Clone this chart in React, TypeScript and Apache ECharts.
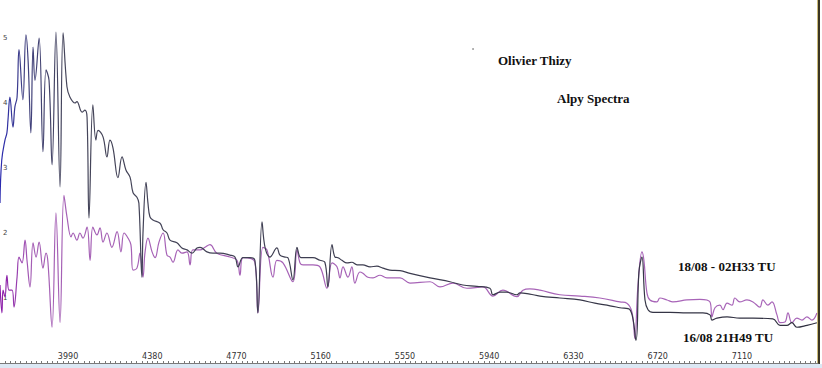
import React, { useEffect, useRef } from "react";
import * as echarts from "echarts";

// Wavelength tick labels (Å)
const xTickLabels = [3990, 4380, 4770, 5160, 5550, 5940, 6330, 6720, 7110];
const yTickLabels = [1, 2, 3, 4, 5];

// Spectrum 16/08 21H49 TU (dark line): wavelength, relative flux
const wl16 = [3675, 3683, 3698, 3707, 3712, 3721, 3735, 3744, 3754, 3763, 3781, 3795, 3805, 3818, 3828, 3837, 3856, 3874, 3888, 3902, 3916, 3934, 3953, 3967, 3985, 3999, 4022, 4031, 4055, 4068, 4078, 4087, 4105, 4119, 4129, 4152, 4170, 4184, 4198, 4221, 4240, 4258, 4277, 4291, 4309, 4318, 4332, 4337, 4351, 4360, 4369, 4383, 4416, 4430, 4448, 4462, 4494, 4517, 4541, 4564, 4587, 4601, 4633, 4661, 4693, 4740, 4763, 4777, 4800, 4832, 4855, 4869, 4888, 4902, 4925, 4957, 4971, 4994, 5008, 5031, 5050, 5064, 5078, 5124, 5156, 5179, 5193, 5212, 5226, 5240, 5258, 5281, 5304, 5328, 5355, 5388, 5420, 5448, 5480, 5527, 5573, 5666, 5758, 5818, 5883, 5943, 5957, 5990, 6022, 6068, 6082, 6128, 6175, 6267, 6360, 6429, 6499, 6545, 6591, 6619, 6633, 6647, 6661, 6675, 6698, 6777, 6855, 6929, 6962, 6971, 6994, 7041, 7100, 7161, 7253, 7286, 7318, 7341, 7364, 7411, 7457];
const flux16 = [2.46, 3.12, 3.43, 3.54, 3.74, 4.09, 3.63, 3.94, 4.09, 4.82, 4.05, 5.05, 4.66, 3.54, 4.86, 4.35, 5.0, 3.25, 4.51, 4.35, 3.05, 5.09, 2.71, 5.08, 4.25, 4.09, 4.0, 4.02, 3.86, 3.89, 3.78, 2.23, 3.97, 3.43, 3.58, 3.48, 3.17, 3.43, 3.31, 2.85, 3.17, 2.97, 2.86, 2.62, 2.55, 2.46, 1.32, 2.0, 2.78, 2.46, 2.25, 2.2, 2.15, 2.05, 2.0, 1.89, 1.85, 1.77, 1.74, 1.69, 1.77, 1.78, 1.71, 1.69, 1.69, 1.66, 1.63, 1.48, 1.62, 1.62, 1.58, 0.77, 2.17, 1.78, 1.63, 1.77, 1.66, 1.63, 1.62, 1.28, 1.78, 1.63, 1.62, 1.62, 1.58, 1.55, 1.17, 1.82, 1.63, 1.62, 1.58, 1.54, 1.55, 1.51, 1.51, 1.48, 1.49, 1.46, 1.43, 1.42, 1.38, 1.31, 1.25, 1.2, 1.18, 1.15, 1.05, 1.09, 1.09, 1.05, 1.08, 1.06, 1.03, 1.0, 0.97, 0.92, 0.88, 0.85, 0.82, 0.35, 1.4, 1.63, 0.97, 0.82, 0.78, 0.78, 0.77, 0.77, 0.74, 0.66, 0.69, 0.71, 0.69, 0.69, 0.68, 0.58, 0.58, 0.62, 0.55, 0.58, 0.62];

// Spectrum 18/08 - 02H33 TU (purple line)
const wl18 = [3675, 3684, 3689, 3698, 3707, 3717, 3731, 3740, 3754, 3763, 3777, 3791, 3800, 3814, 3828, 3842, 3856, 3874, 3888, 3897, 3916, 3934, 3953, 3971, 3985, 4004, 4013, 4031, 4045, 4059, 4078, 4092, 4105, 4124, 4138, 4152, 4170, 4193, 4217, 4235, 4249, 4268, 4281, 4291, 4309, 4323, 4337, 4346, 4360, 4379, 4393, 4411, 4430, 4448, 4462, 4476, 4499, 4517, 4541, 4555, 4568, 4601, 4624, 4647, 4679, 4740, 4772, 4786, 4800, 4855, 4869, 4892, 4911, 4939, 4957, 4985, 5031, 5050, 5064, 5078, 5124, 5156, 5189, 5212, 5235, 5249, 5263, 5286, 5304, 5318, 5341, 5355, 5378, 5402, 5434, 5466, 5494, 5527, 5573, 5666, 5712, 5772, 5837, 5911, 5957, 6003, 6068, 6096, 6128, 6175, 6267, 6360, 6452, 6545, 6577, 6601, 6614, 6628, 6647, 6656, 6670, 6684, 6716, 6730, 6763, 6790, 6855, 6915, 6962, 6971, 6985, 7008, 7022, 7041, 7064, 7077, 7100, 7133, 7161, 7193, 7207, 7230, 7249, 7272, 7286, 7309, 7323, 7341, 7364, 7388, 7411, 7434, 7457];
const flux18 = [1.2, 0.77, 1.12, 1.02, 1.35, 1.12, 1.12, 0.86, 1.32, 1.63, 1.54, 1.89, 1.58, 1.17, 1.85, 1.63, 1.86, 1.46, 1.69, 1.55, 0.55, 2.31, 0.62, 2.58, 2.25, 1.94, 2.0, 1.89, 2.0, 1.92, 2.09, 1.58, 2.09, 1.97, 2.08, 1.86, 2.0, 1.78, 2.02, 1.71, 2.0, 1.92, 1.82, 1.43, 1.46, 1.69, 1.32, 1.69, 1.92, 1.71, 1.62, 1.86, 2.0, 1.66, 1.63, 1.55, 1.74, 1.69, 1.71, 1.51, 1.74, 1.74, 1.78, 1.82, 1.69, 1.63, 1.58, 1.35, 1.62, 1.55, 0.77, 1.78, 1.74, 1.32, 1.58, 1.54, 1.25, 1.74, 1.54, 1.51, 1.51, 1.48, 1.15, 1.54, 1.48, 1.31, 1.48, 1.32, 1.48, 1.23, 1.4, 1.38, 1.32, 1.31, 1.35, 1.31, 1.31, 1.31, 1.23, 1.25, 1.17, 1.23, 1.15, 1.17, 1.03, 1.12, 1.02, 1.12, 1.14, 1.12, 1.05, 1.03, 1.0, 0.94, 0.92, 0.78, 0.38, 1.17, 1.71, 1.58, 1.08, 0.97, 0.94, 1.0, 0.97, 0.94, 0.97, 0.98, 0.94, 0.71, 0.85, 0.89, 0.82, 0.92, 0.89, 1.0, 0.94, 0.97, 0.94, 0.86, 0.97, 0.89, 0.94, 0.74, 0.62, 0.63, 0.77, 0.62, 0.69, 0.66, 0.71, 0.66, 0.77];

const name16 = "16/08 21H49 TU";
const name18 = "18/08 - 02H33 TU";

export default function App() {
  const ref = useRef<HTMLDivElement>(null);
  useEffect(() => {
    if (!ref.current) return;
    const chart = echarts.init(ref.current, null, { renderer: "svg" });
    const minorTicks: number[] = [];
    const step = 390 / 16;
    for (let v = xTickLabels[0] - 390; v < 7470; v += step) minorTicks.push(Math.round(v * 100) / 100);
    const serif = "'Liberation Serif', 'Times New Roman', serif";
    chart.setOption({
      animation: false,
      backgroundColor: "#ffffff",
      grid: { left: 0, right: 4, top: 0, bottom: 5 },
      xAxis: {
        type: "value",
        min: 3675,
        max: 7462,
        axisLine: { show: true, lineStyle: { color: "#7a7a7a", width: 1 } },
        axisTick: { show: true, inside: true, length: 2, customValues: minorTicks, lineStyle: { color: "#777" } },
        axisLabel: {
          inside: true,
          margin: 3,
          customValues: xTickLabels,
          formatter: (v: number) => String(v),
          fontSize: 8,
          color: "#333",
          fontFamily: "'DejaVu Sans', sans-serif",
        },
        splitLine: { show: false },
      },
      yAxis: {
        type: "value",
        min: 0,
        max: 5.585,
        axisLine: { show: false },
        axisTick: { show: false },
        axisLabel: {
          inside: true,
          margin: 3,
          customValues: yTickLabels,
          fontSize: 7,
          color: "#444",
          fontFamily: "'DejaVu Sans', sans-serif",
        },
        splitLine: { show: false },
      },
      series: [
        {
          name: name18,
          type: "line",
          showSymbol: false,
          smooth: 0.4,
          data: wl18.map((w, i) => [w, flux18[i]]),
          lineStyle: {
            width: 1.2,
            color: new echarts.graphic.LinearGradient(0, 0, 1, 0, [
              { offset: 0, color: "#8a1aa8" },
              { offset: 0.04, color: "#a560b5" },
              { offset: 1, color: "#a865b8" },
            ]),
          },
          z: 2,
        },
        {
          name: name16,
          type: "line",
          showSymbol: false,
          smooth: 0.4,
          data: wl16.map((w, i) => [w, flux16[i]]),
          lineStyle: {
            width: 1.2,
            color: new echarts.graphic.LinearGradient(0, 0, 1, 0, [
              { offset: 0, color: "#2a2ab0" },
              { offset: 0.03, color: "#404080" },
              { offset: 0.08, color: "#45455a" },
              { offset: 1, color: "#303040" },
            ]),
          },
          z: 3,
        },
      ],
      graphic: [
        { type: "rect", shape: { x: 0, y: 364, width: 822, height: 4 }, style: { fill: "#dce8f4" } },
        { type: "rect", shape: { x: 817, y: 0, width: 1, height: 364 }, style: { fill: "#cbbb7a" } },
        { type: "rect", shape: { x: 818, y: 0, width: 2, height: 364 }, style: { fill: "#3a3422" } },
        { type: "circle", shape: { cx: 473, cy: 49, r: 0.8 }, style: { fill: "#888" } },
        { type: "text", x: 498, y: 54, style: { text: "Olivier Thizy", font: `bold 13px ${serif}`, fill: "#111" } },
        { type: "text", x: 557, y: 92, style: { text: "Alpy Spectra", font: `bold 13px ${serif}`, fill: "#111" } },
        { type: "text", x: 678, y: 260, style: { text: name18, font: `bold 13px ${serif}`, fill: "#111" } },
        { type: "text", x: 683, y: 331, style: { text: name16, font: `bold 13px ${serif}`, fill: "#111" } },
      ],
    });
    return () => chart.dispose();
  }, []);
  return <div ref={ref} style={{ position: "fixed", left: 0, top: 0, width: 822, height: 368 }} />;
}
